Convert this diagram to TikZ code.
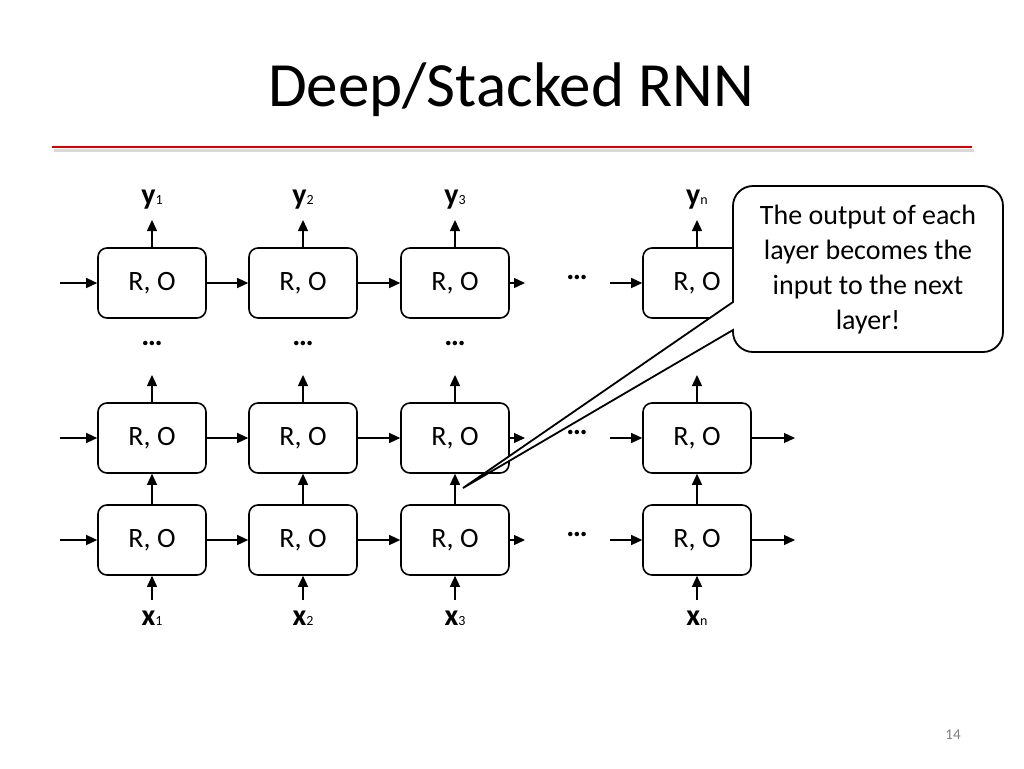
\documentclass[tikz,border=0pt]{standalone}
\usepackage{fontspec}
\setmainfont{Carlito}
\usetikzlibrary{arrows.meta}
\tikzset{
  cell/.style={draw,line width=1.6pt,rounded corners=9pt,minimum width=108pt,
    minimum height=70pt,font=\fontsize{28}{32}\selectfont},
  flow/.style={-{Triangle[length=11pt,width=10pt]},line width=1.3pt},
  lbl/.style={font=\fontsize{30}{34}\selectfont\bfseries},
  dots/.style={font=\fontsize{30}{34}\selectfont\bfseries}
}
\newcommand{\sub}[1]{{\fontsize{14}{14}\selectfont\mdseries #1}}
\begin{document}
\begin{tikzpicture}[x=1pt,y=-1pt]
\useasboundingbox (0,0) rectangle (1024,768);
\node[font=\fontsize{63}{70}\selectfont] (title) at (511,90) {Deep/Stacked RNN};
\draw[line width=3pt,gray!30] (54,150) -- (974,150);
\draw[line width=2.4pt,red!85!black] (52,147) -- (972,147);
\node[font=\fontsize{15}{16}\selectfont,gray] (page) at (953,735) {14};
%
\foreach \i/\x/\s in {1/152/1,2/303/2,3/455/3,4/697/n}{
  \node[cell] (t\i) at (\x,283) {R, O};
  \node[cell] (m\i) at (\x,438) {R, O};
  \node[cell] (b\i) at (\x,540) {R, O};
  \node[lbl] (y\i) at (\x,200) {y\sub{\s}};
  \node[lbl] (x\i) at (\x,618) {x\sub{\s}};
  \node[dots] (d\i) at (\x,343) {…};
  \coordinate (u\i) at (\x,375);
  \coordinate (v\i) at (\x,220);
  \coordinate (w\i) at (\x,600);
  \draw[flow] (t\i) -- (v\i);
  \draw[flow] (m\i) -- (u\i);
  \draw[flow] (b\i) -- (m\i);
  \draw[flow] (w\i) -- (b\i);
}
%
\foreach \r/\y in {t/283,m/438,b/540}{
  \coordinate (in\r) at (60,\y);
  \coordinate (go\r) at (525,\y);
  \coordinate (re\r) at (610,\y);
  \draw[flow] (in\r) -- (\r1);
  \draw[flow] (\r1) -- (\r2);
  \draw[flow] (\r2) -- (\r3);
  \draw[flow] (\r3) -- (go\r);
  \node[dots] (h\r) at (577,\y-6) {…};
  \draw[flow] (re\r) -- (\r4);
  \coordinate (out\r) at (795,\y);
  \draw[flow] (\r4) -- (out\r);
}
%
\draw[line width=1.8pt,fill=white,rounded corners=20pt]
  (733,302) [sharp corners] -- (463,488) -- (733,330) [rounded corners=20pt]
  -- (733,352) -- (1003,352) -- (1003,186) -- (733,186) [sharp corners] -- (733,302) -- cycle;
\node[font=\fontsize{28}{35}\selectfont,align=center] (note) at (868,270)
  {The output of each\\layer becomes the\\input to the next\\layer!};
\end{tikzpicture}
\end{document}
